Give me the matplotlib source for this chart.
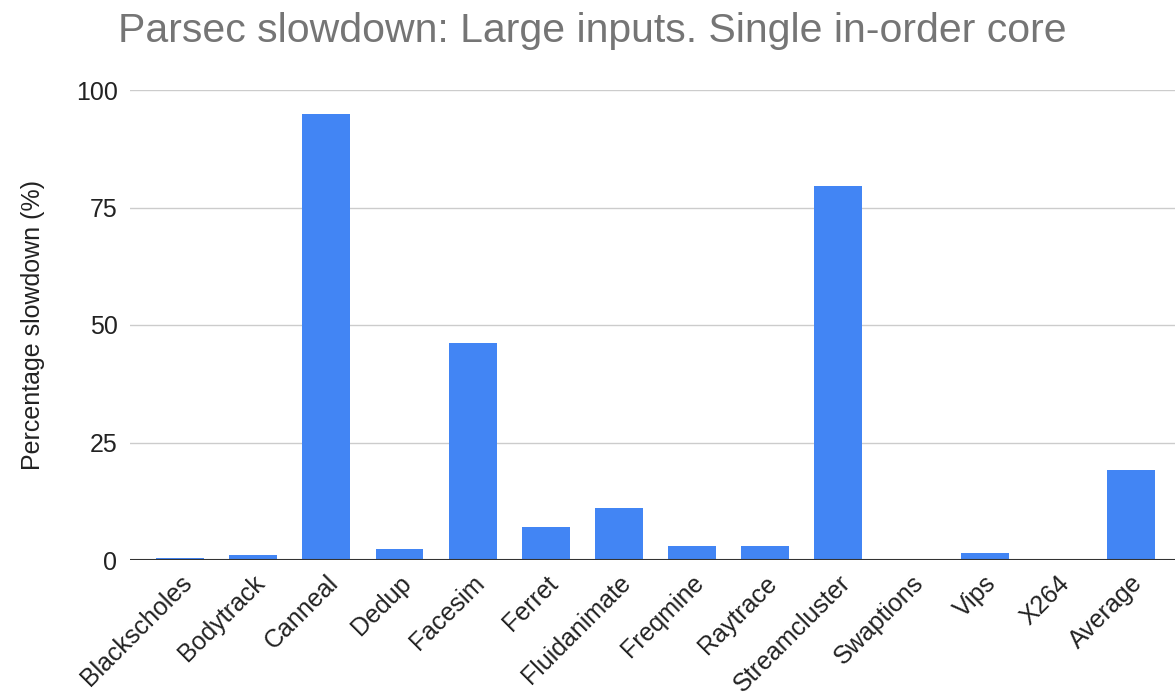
import numpy as np
import matplotlib.pyplot as plt
import matplotlib.transforms as mtransforms

# Datos del gráfico.
benchmarks = ['Blackscholes', 'Bodytrack', 'Canneal', 'Dedup', 'Facesim', 'Ferret',
              'Fluidanimate', 'Freqmine', 'Raytrace', 'Streamcluster', 'Swaptions',
              'Vips', 'X264', 'Average']
slowdown = [0.5, 1.0, 94.9, 2.3, 46.2, 7.1, 11.1, 3.0, 3.0, 79.6, 0.0, 1.4, 0.0, 19.1]
yticks = [0, 25, 50, 75, 100]

plt.rcParams['font.family'] = ['Liberation Sans', 'DejaVu Sans']

fig = plt.figure(figsize=(11.75, 7.0), dpi=100)
ax = fig.add_axes([130 / 1175, 140 / 700, 1045 / 1175, 470 / 700])

x = np.arange(len(benchmarks))
ax.bar(x, slowdown, width=0.655, color='#4285F4', zorder=3)

ax.set_xlim(-0.683, 13.6)
ax.set_ylim(0, 100)
ax.set_yticks(yticks)
ax.set_yticklabels([str(v) for v in yticks], fontsize=18, color='#222222')
ax.set_xticks(x)
ax.set_xticklabels(benchmarks, rotation=45, ha='right', va='center',
                   rotation_mode='anchor', fontsize=18, color='#222222')
ax.tick_params(axis='both', length=0)
ax.tick_params(axis='y', pad=9)
ax.tick_params(axis='x', pad=14)

# Desplazamiento de las etiquetas del eje x.
desplazamiento = mtransforms.ScaledTranslation(8 / 100, 0, fig.dpi_scale_trans)
for etiqueta in ax.get_xticklabels():
    etiqueta.set_transform(etiqueta.get_transform() + desplazamiento)

# Rejilla horizontal.
ax.grid(axis='y', color='#cccccc', linewidth=1, zorder=0)
ax.axhline(0, color='#333333', linewidth=1.5, zorder=4)
for s in ax.spines.values():
    s.set_visible(False)

ax.set_ylabel('Percentage slowdown (%)', fontsize=18, color='#222222', labelpad=22)
fig.suptitle('Parsec slowdown: Large inputs. Single in-order core', x=0.504, y=0.983,
             fontsize=29.5, color='#757575')

fig.savefig('out.png')
